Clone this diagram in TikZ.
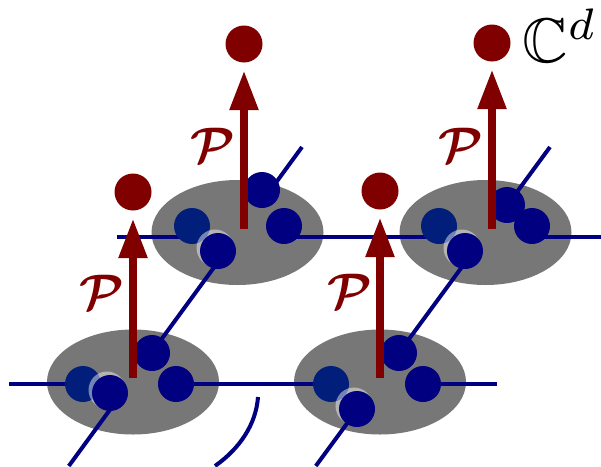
\documentclass[tikz,border=0pt]{standalone}
\usepackage{amssymb}
\usepackage{bm}
\usetikzlibrary{arrows.meta,shapes.geometric,calc}

\definecolor{siteblue}{RGB}{0,0,128}
\definecolor{sitebluel}{RGB}{0,30,122}
\definecolor{projred}{RGB}{128,0,0}
\definecolor{blobgray}{RGB}{119,119,119}

\begin{document}
\begin{tikzpicture}[x=1pt,y=-1pt,
  blob/.style={ellipse, fill=blobgray, minimum width=172pt, minimum height=105pt, inner sep=0pt},
  spin/.style={circle, fill=siteblue, minimum size=36pt, inner sep=0pt},
  spinback/.style={spin, fill=sitebluel},
  halo/.style={circle, fill=white, fill opacity=0.45, minimum size=37pt, inner sep=0pt},
  target/.style={circle, fill=projred, minimum size=37pt, inner sep=0pt},
  wire/.style={draw=siteblue, line width=4pt},
  proj/.style={draw=projred, line width=8.5pt, shorten >=7.5pt,
    -{Triangle[length=40pt,width=27pt]}},
  plabel/.style={text=projred, scale=5, inner sep=0pt}
]
\useasboundingbox (0,0) rectangle (601,466);

% sites (gray blobs)
\node[blob] (BL) at (133,382) {};
\node[blob] (BR) at (380,382) {};
\node[blob] (TL) at (237.5,232.5) {};
\node[blob] (TR) at (485.5,232.5) {};

% spin positions inside each site
\coordinate (BL-L) at (83,384);  \coordinate (BL-F) at (110,393);
\coordinate (BL-T) at (152,353); \coordinate (BL-R) at (176,384);
\coordinate (BR-L) at (331,384); \coordinate (BR-F) at (357,409);
\coordinate (BR-T) at (399,353); \coordinate (BR-R) at (423,384);
\coordinate (TL-L) at (192,226); \coordinate (TL-F) at (218,251);
\coordinate (TL-T) at (262,190); \coordinate (TL-R) at (284,226);
\coordinate (TR-L) at (439,226); \coordinate (TR-F) at (465,251);
\coordinate (TR-T) at (507,205); \coordinate (TR-R) at (532,226);

% free ends of the lattice bonds
\coordinate (bot-w) at (9,384);   \coordinate (bot-e) at (497,384);
\coordinate (top-w) at (117,237); \coordinate (top-e) at (601,237);
\coordinate (dl-s) at (68.8,466); \coordinate (dl-n) at (302,147);
\coordinate (dr-s) at (315.8,466); \coordinate (dr-n) at (550,147);
\coordinate (arc-a) at (258,397); \coordinate (arc-b) at (215,466);

% horizontal bonds
\draw[wire] (bot-w) -- (BL-L |- bot-w);
\draw[wire] (BL-R |- bot-w) -- (BR-L |- bot-w);
\draw[wire] (BR-R |- bot-w) -- (bot-e);
\draw[wire] (top-w) -- (TL-L |- top-w);
\draw[wire] (TL-R |- top-w) -- (TR-L |- top-w);
\draw[wire] (TR-R |- top-w) -- (top-e);

% diagonal bonds
\draw[wire] (dl-s) -- ($(dl-s)!(BL-F)!(dl-n)$);
\draw[wire] ($(dl-s)!(BL-T)!(dl-n)$) -- ($(dl-s)!(TL-F)!(dl-n)$);
\draw[wire] ($(dl-s)!(TL-T)!(dl-n)$) -- (dl-n);
\draw[wire] (dr-s) -- ($(dr-s)!(BR-F)!(dr-n)$);
\draw[wire] ($(dr-s)!(BR-T)!(dr-n)$) -- ($(dr-s)!(TR-F)!(dr-n)$);
\draw[wire] ($(dr-s)!(TR-T)!(dr-n)$) -- (dr-n);

% curved bond
\draw[wire] (arc-a) .. controls (256,425) and (239,449) .. (arc-b);

% spins
\foreach \s in {BL,BR,TL,TR}{
  \node[spinback] (\s-l) at (\s-L) {};
  \node[spin] (\s-t) at (\s-T) {};
  \node[spin] (\s-r) at (\s-R) {};
  \node[halo] (\s-h) at ([shift={(-3,-3)}]\s-F) {};
  \node[spin] (\s-f) at (\s-F) {};
}

% local maps to C^d
\node[target] (BL-c) at (133,192) {};
\node[target] (BR-c) at (380,191) {};
\node[target] (TL-c) at (244,44) {};
\node[target] (TR-c) at (492,43) {};

\coordinate (BL-b) at (133,378);
\coordinate (BR-b) at (380,378);
\coordinate (TL-b) at (244,229);
\coordinate (TR-b) at (492,229);

\draw[proj] (BL-b) -- (BL-c);
\draw[proj] (BR-b) -- (BR-c);
\draw[proj] (TL-b) -- (TL-c);
\draw[proj] (TR-b) -- (TR-c);

\node[plabel] (BL-p) at (101.5,292.5) {$\bm{\mathcal{P}}$};
\node[plabel] (BR-p) at (349.5,291) {$\bm{\mathcal{P}}$};
\node[plabel] (TL-p) at (213,145) {$\bm{\mathcal{P}}$};
\node[plabel] (TR-p) at (461,145) {$\bm{\mathcal{P}}$};

\node[scale=6.3, inner sep=0pt, anchor=base west] (cd) at (521,62) {$\mathbb{C}^d$};
\end{tikzpicture}
\end{document}
